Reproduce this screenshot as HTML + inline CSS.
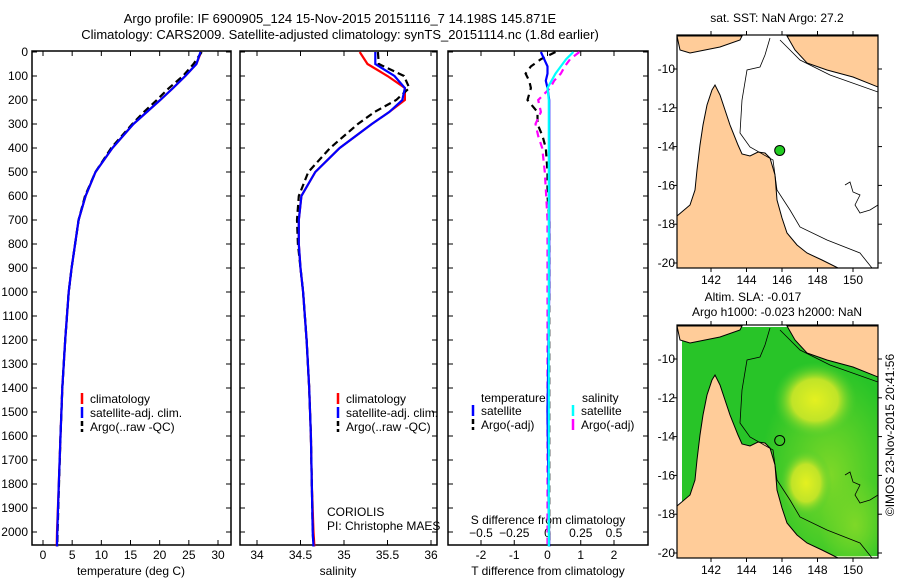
<!DOCTYPE html>
<html><head><meta charset="utf-8"><style>
body{margin:0;background:#fff;}
svg{display:block;font-family:"Liberation Sans",sans-serif;}
</style></head><body>
<svg id="c" width="900" height="580" viewBox="0 0 900 580"></svg>
<script>
// ---- data ----
const depths = [0,50,100,150,200,250,300,400,500,600,700,800,900,1000,1200,1400,1600,1800,2000,2060];
const tempClim = [27.1,26.3,24.4,22.3,20.1,17.8,15.5,11.9,9.0,7.3,6.1,5.5,4.9,4.4,3.8,3.3,3.0,2.7,2.4,2.35];
const tempSat  = [27.0,26.3,24.4,22.3,20.1,17.8,15.5,11.9,9.0,7.3,6.1,5.5,4.9,4.4,3.8,3.3,3.0,2.7,2.45,2.4];
const tempArgo = [27.2,25.8,24.0,21.6,19.5,17.3,15.3,11.7,9.0,7.2,6.1,5.5,4.9,4.4,3.8,3.3,3.0,2.75,2.5,2.45];
const salClim = [35.18,35.27,35.50,35.70,35.70,35.52,35.32,34.95,34.67,34.51,34.48,34.48,34.50,34.53,34.57,34.60,34.62,34.63,34.65,34.66];
const salSat  = [35.36,35.36,35.58,35.70,35.67,35.52,35.32,34.95,34.67,34.51,34.48,34.48,34.50,34.53,34.57,34.60,34.62,34.63,34.64,34.65];
const salArgo = [35.39,35.40,35.69,35.75,35.60,35.35,35.16,34.84,34.59,34.48,34.46,34.47,34.50,34.53,34.57,34.60,34.62,34.63,34.64,34.65];
const diffDepths = [0,30,60,90,120,150,200,250,300,350,400,500,600,700,1000,1500,2060];
const tDiffSat  = [-0.2,-0.1,0.0,0.0,-0.05,0.0,0.05,0.05,0.05,0.05,0.05,0.05,0.05,0.05,0.05,0.0,0.05];
const tDiffArgo = [0.24,-0.2,-0.5,-0.66,-0.55,-0.5,-0.6,-0.3,-0.3,-0.15,-0.05,0.0,0.0,0.05,0.05,0.05,0.05];
const sDiffSat  = [0.195,0.14,0.10,0.06,0.03,0.0,0.01,0.01,0.01,0.01,0.01,0.01,0.01,0.01,0.01,0.01,0.01];
const sDiffArgo = [0.24,0.17,0.13,0.10,0.05,0.02,-0.07,-0.05,-0.09,-0.07,-0.04,-0.02,-0.01,0.0,0.0,0.0,0.0];
const depthTicks = [0,100,200,300,400,500,600,700,800,900,1000,1100,1200,1300,1400,1500,1600,1700,1800,1900,2000];
const tempTicks = [0,5,10,15,20,25,30];
const salTicks = [34,34.5,35,35.5,36];
const tdTicks = [-2,-1,0,1,2];
const sdTicks = [-0.5,-0.25,0,0.25,0.5];
const sdTickLabels = ["\u22120.5","\u22120.25","0","0.25","0.5"];
const lonTicks = [142,144,146,148,150];
const latTicks = [-10,-12,-14,-16,-18,-20];
const argoLon = [145.871];
const argoLat = [-14.198];

const NS="http://www.w3.org/2000/svg";
const svg=document.getElementById('c');
function el(tag,attrs,parent,text){const e=document.createElementNS(NS,tag);for(const k in attrs)e.setAttribute(k,attrs[k]);if(text!==undefined)e.textContent=text;(parent||svg).appendChild(e);return e;}
function lin(d0,d1,r0,r1){return v=>r0+(v-d0)*(r1-r0)/(d1-d0);}
const yD=lin(0,2000,52,532);
const PB=545, PT=51;

function panel(name,x0,x1){const g=el('g',{});
 el('rect',{x:x0,y:PT,width:x1-x0,height:PB-PT,fill:'none',stroke:'#000','stroke-width':1.5},g);return g;}
function line(g,xs,ys,xf,color,dash,name){
 const p=el('polyline',{points:xs.map((v,i)=>xf(v).toFixed(1)+','+yD(ys[i]).toFixed(1)).join(' '),fill:'none',stroke:color,'stroke-width':2.2,'stroke-dasharray':dash||'none'},g);
 }
function xticks(g,ticks,labels,xf,ylab){ticks.forEach((t,i)=>{const x=xf(t);
 el('line',{x1:x,x2:x,y1:PB,y2:PB-5,stroke:'#000'},g);el('line',{x1:x,x2:x,y1:PT,y2:PT+5,stroke:'#000'},g);
 const tx=el('text',{x:x,y:ylab,'font-size':12,'text-anchor':'middle'},g,labels?labels[i]:String(t));
 });}
function yticks(g,x0,x1){depthTicks.forEach(d=>{const y=yD(d);el('line',{x1:x0,x2:x0+5,y1:y,y2:y,stroke:'#000'},g);el('line',{x1:x1,x2:x1-5,y1:y,y2:y,stroke:'#000'},g);});}

const t1=el('text',{x:340,y:23,'font-size':13,'text-anchor':'middle'},svg,'Argo profile: IF 6900905_124 15-Nov-2015 20151116_7 14.198S 145.871E');

const t2=el('text',{x:340,y:39,'font-size':13,'text-anchor':'middle'},svg,'Climatology: CARS2009. Satellite-adjusted climatology: synTS_20151114.nc (1.8d earlier)');


// panel 1 temperature
const xT=lin(0,30,43,218);
const g1=panel('temperature-panel',32,231);
yticks(g1,32,231);
depthTicks.forEach(d=>{const t=el('text',{x:28,y:yD(d)+4,'font-size':12,'text-anchor':'end'},g1,String(d));});
xticks(g1,tempTicks,null,xT,559);
line(g1,tempClim,depths,xT,'#ff0000',null,'temp-climatology-line');
line(g1,tempArgo,depths,xT,'#000000','7,4','temp-argo-line');
line(g1,tempSat,depths,xT,'#0000ff',null,'temp-satellite-line');
const xl1=el('text',{x:131,y:575,'font-size':12,'text-anchor':'middle'},g1,'temperature (deg C)');
function legend(g,x,y,items){items.forEach((it,i)=>{const gg=el('g',{},g);
 el('line',{x1:x,x2:x,y1:y+i*14-10,y2:y+i*14+1,stroke:it[1],'stroke-width':2.5,'stroke-dasharray':it[2]||'none'},gg);
 el('text',{x:x+8,y:y+i*14,'font-size':12},gg,it[0]);});}
legend(g1,82,403,[['climatology','#f00'],['satellite-adj. clim.','#00f'],['Argo(..raw -QC)','#000','5,3']]);

// panel 2 salinity
const xS=lin(34,36,257,431);
const g2=panel('salinity-panel',240,437);
yticks(g2,240,437);
xticks(g2,salTicks,null,xS,559);
line(g2,salClim,depths,xS,'#ff0000',null,'sal-climatology-line');
line(g2,salArgo,depths,xS,'#000000','7,4','sal-argo-line');
line(g2,salSat,depths,xS,'#0000ff',null,'sal-satellite-line');
const xl2=el('text',{x:338,y:575,'font-size':12,'text-anchor':'middle'},g2,'salinity');
legend(g2,338,403,[['climatology','#f00'],['satellite-adj. clim.','#00f'],['Argo(..raw -QC)','#000','5,3']]);
const c1=el('text',{x:327,y:516,'font-size':12},g2,'CORIOLIS');
const c2=el('text',{x:327,y:530,'font-size':12},g2,'PI: Christophe MAES');

// panel 3 differences
const xTD=lin(-2,2,481,614);
const xSD=lin(-0.5,0.5,481,614);
const g3=panel('difference-panel',448,648);
yticks(g3,448,648);
xticks(g3,tdTicks,null,xTD,559);
sdTicks.forEach((t,i)=>{el('text',{x:xSD(t),y:537,'font-size':12,'text-anchor':'middle'},g3,sdTickLabels[i]);});
el('text',{x:548,y:524,'font-size':12,'text-anchor':'middle'},g3,'S difference from climatology');
const xl3=el('text',{x:548,y:575,'font-size':12,'text-anchor':'middle'},g3,'T difference from climatology');
line(g3,tDiffArgo,diffDepths,xTD,'#000000','7,5','tdiff-argo-line');
line(g3,sDiffArgo,diffDepths,xSD,'#ff00ff','7,5','sdiff-argo-line');
line(g3,tDiffSat,diffDepths,xTD,'#0000ff',null,'tdiff-satellite-line');
line(g3,sDiffSat,diffDepths,xSD,'#00ffff',null,'sdiff-satellite-line');
el('text',{x:481,y:402,'font-size':12},g3,'temperature');
el('text',{x:582,y:402,'font-size':12},g3,'salinity');
legend(g3,473,415,[['satellite','#00f'],['Argo(-adj)','#000','5,3']]);
legend(g3,573,415,[['satellite','#0ff'],['Argo(-adj)','#f0f']]);

// maps (coastline points in top-map pixel coords, shifted by dy)
const xLon=lin(142,150,711,853);
function pts(arr,dy){return arr.map(p=>p[0]+','+(p[1]+dy)).join(' ');}
const peninsula=[[677,268],[677,216],[690,205],[695,190],[697,170],[700,145],[703,125],[707,105],[712,90],[715,85],[720,95],[725,110],[730,125],[738,145],[742,154],[750,156],[758,152],[765,153],[770,158],[775,175],[777,200],[782,218],[787,233],[797,245],[807,253],[822,260],[838,268]];
const nwLand=[[677,36],[742,36],[740,40],[720,47],[700,51],[690,53],[680,50]];
const pngLand=[[787,36],[878,36],[878,87],[853,77],[827,70],[807,63],[795,50]];
const contour1=[[770,38],[765,55],[760,67],[747,70],[742,100],[740,133],[750,147],[773,160],[777,190],[790,210],[800,227],[827,240],[860,253],[872,268]];
const contour2=[[780,40],[790,50],[800,60],[830,75],[878,92]];
const contour3=[[845,185],[850,182],[853,192],[860,195],[855,205],[860,213],[870,210],[878,205]];
function mapPanel(name,top,green){
 const dy=top-35;
 const yLat=lin(-10,-20,69+dy,263+dy);
 const g=el('g',{});
 const L=677,R=878,T=top,B=top+233;
 const cid='clip'+top;const cp=el('clipPath',{id:cid},g);el('rect',{x:L,y:T,width:R-L,height:B-T},cp);
 const inner=el('g',{'clip-path':'url(#'+cid+')'},g);
 el('rect',{x:L,y:T,width:R-L,height:B-T,fill:'#fff'},inner);
 if(green){
  const gid='gr'+top;const defs=el('defs',{},inner);
  const r1=el('radialGradient',{id:gid+'a'},defs);el('stop',{offset:'0','stop-color':'#e4f020'},r1);el('stop',{offset:'0.55','stop-color':'#c0e428'},r1);el('stop',{offset:'1','stop-color':'#48cc30','stop-opacity':0},r1);
  const r2=el('radialGradient',{id:gid+'b'},defs);el('stop',{offset:'0','stop-color':'#7ed828'},r2);el('stop',{offset:'1','stop-color':'#7ed828','stop-opacity':0},r2);
  el('rect',{x:L+5,y:T+2,width:R-L-5,height:B-T-4,fill:'#28c428'},inner);
  el('ellipse',{cx:830,cy:top+150,rx:70,ry:110,fill:'url(#'+gid+'b)'},inner);
  el('ellipse',{cx:855,cy:top+200,rx:35,ry:50,fill:'url(#'+gid+'b)'},inner);
  el('ellipse',{cx:815,cy:top+75,rx:42,ry:38,fill:'url(#'+gid+'a)'},inner);
  el('ellipse',{cx:806,cy:top+158,rx:26,ry:34,fill:'url(#'+gid+'a)'},inner);
 }
 const land='#ffcc99';
 el('polygon',{points:pts(peninsula,dy),fill:land,stroke:'#000','stroke-width':1},inner);
 el('polygon',{points:pts(nwLand,dy),fill:land,stroke:'#000','stroke-width':1},inner);
 el('polygon',{points:pts(pngLand,dy),fill:land,stroke:'#000','stroke-width':1},inner);
 [contour1,contour2,contour3].forEach(c=>el('polyline',{points:pts(c,dy),fill:'none',stroke:'#000','stroke-width':0.8},inner));
 el('rect',{x:L,y:T,width:R-L,height:B-T,fill:'none',stroke:'#000','stroke-width':1.2},g);
 lonTicks.forEach(l=>{const x=xLon(l);el('line',{x1:x,x2:x,y1:T,y2:T-4,stroke:'#000'},g);el('line',{x1:x,x2:x,y1:B,y2:B+4,stroke:'#000'},g);
  el('text',{x:x,y:B+16,'font-size':12,'text-anchor':'middle'},g,String(l));});
 latTicks.forEach(l=>{const y=yLat(l);el('line',{x1:L,x2:L-4,y1:y,y2:y,stroke:'#000'},g);el('line',{x1:R,x2:R+4,y1:y,y2:y,stroke:'#000'},g);
  el('text',{x:L-2,y:y+4,'font-size':12,'text-anchor':'end'},g,'-'+(-l));});
 return {g,yLat};
}
const m1=mapPanel('sst-map',35,false);
const mk=el('circle',{cx:xLon(argoLon[0]),cy:m1.yLat(argoLat[0]),r:5,fill:'#22cc22',stroke:'#000','stroke-width':1},m1.g);

el('text',{x:777,y:22,'font-size':12,'text-anchor':'middle'},m1.g,'sat. SST: NaN Argo: 27.2');
const m2=mapPanel('sla-map',325,true);
const mk2=el('circle',{cx:xLon(argoLon[0]),cy:m2.yLat(argoLat[0]),r:5,fill:'none',stroke:'#000','stroke-width':1},m2.g);

el('text',{x:753,y:301,'font-size':12,'text-anchor':'middle'},m2.g,'Altim. SLA: -0.017');
el('text',{x:777,y:316,'font-size':12,'text-anchor':'middle'},m2.g,'Argo h1000: -0.023 h2000: NaN');
const cr=el('text',{x:0,y:0,'font-size':12,'text-anchor':'middle',transform:'translate(894,435) rotate(-90)'},svg,'\u00a9IMOS 23-Nov-2015 20:41:56');

</script>
</body></html>
